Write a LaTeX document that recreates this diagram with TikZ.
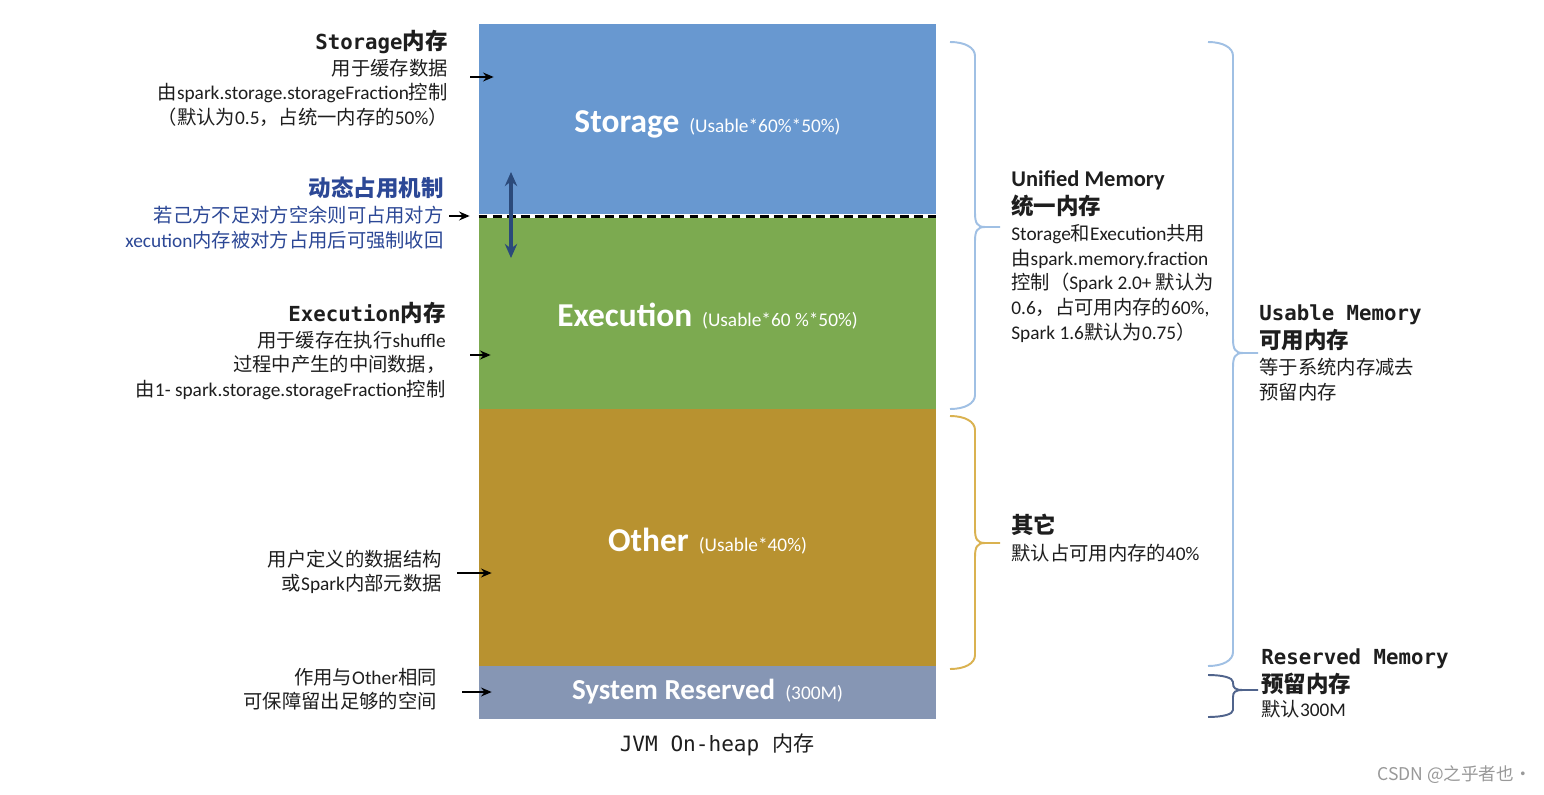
\documentclass[tikz,border=0pt]{standalone}
\usepackage{fontspec}
\setmainfont{Carlito}
\setmonofont{DejaVu Sans Mono}
\newfontfamily\zh{Noto Sans CJK SC}
\usepackage{xcolor}
\usetikzlibrary{arrows.meta, positioning, calc}
\definecolor{storblue}{RGB}{104,152,208}
\definecolor{execgreen}{RGB}{124,170,80}
\definecolor{othergold}{RGB}{184,146,48}
\definecolor{sysgray}{RGB}{134,150,180}
\definecolor{dynblue}{RGB}{44,72,150}
\definecolor{arrblue}{RGB}{43,74,122}
\definecolor{bracelight}{RGB}{160,192,228}
\definecolor{bracegold}{RGB}{218,178,80}
\definecolor{braceslate}{RGB}{80,100,140}
\definecolor{darkgray}{RGB}{30,30,30}

\newcommand{\z}[1]{{\zh #1}}
\newcommand{\monotitle}[1]{{\ttfamily\bfseries\fontsize{11.8}{14}\selectfont #1}}
\newcommand{\zhtitle}[1]{{\zh\bfseries\fontsize{12.8}{14}\selectfont #1}}
\newcommand{\sftitle}[1]{{\bfseries\fontsize{12.8}{14}\selectfont #1}}
% big name, small part, size, drop of the baseline
\newcommand{\boxlbl}[4]{\raisebox{-#4}[0pt][0pt]{{\bfseries\fontsize{#3}{20}\selectfont #1}\hspace{0.2cm}{\fontsize{11}{12}\selectfont #2}}}
% colour, x, top, bottom, tip, hook
\newcommand{\membrace}[6]{%
  \draw[#1, line width=1.1pt]
    (#2,#3) .. controls ({#2+15},#3) and ({#2+25},{#3+0.4*#6}) .. ({#2+25},{#3+#6})
    -- ({#2+25},{#5-#6}) .. controls ({#2+25},{#5-0.3*#6}) and ({#2+27},#5) .. ({#2+35},#5)
    -- ({#2+50},#5)
    ({#2+35},#5) .. controls ({#2+27},#5) and ({#2+25},{#5+0.3*#6}) .. ({#2+25},{#5+#6})
    -- ({#2+25},{#4-#6}) .. controls ({#2+25},{#4-0.4*#6}) and ({#2+15},#4) .. (#2,#4);}

\begin{document}
\begin{tikzpicture}[
    x=0.02cm, y=-0.02cm,
    blk/.style={minimum width=9.14cm, inner sep=0pt, text=white},
    lefttxt/.style={anchor=north east, inner sep=0pt, align=right, text=darkgray, font=\fontsize{11}{13.8}\selectfont},
    righttxt/.style={anchor=north west, inner sep=0pt, align=left, text=darkgray, font=\fontsize{11}{14}\selectfont},
    arr/.style={-{Stealth[length=6pt, width=5pt]}, line width=1.3pt, black},
    dblarr/.style={{Stealth[length=8pt, width=7pt]}-{Stealth[length=8pt, width=7pt]}, line width=1.8pt, arrblue}
]
\useasboundingbox[fill=white] (0,0) rectangle (1544,794);

% memory blocks
\node[blk, fill=storblue, minimum height=3.84cm] (storage) at (707.5,120) {\boxlbl{Storage}{(Usable*60\%*50\%)}{19}{0.26cm}};
\node[blk, fill=execgreen, minimum height=3.86cm] (exec) at (707.5,312.5) {\boxlbl{Execution}{(Usable*60 \%*50\%)}{19}{0.28cm}};
\node[blk, fill=othergold, minimum height=5.14cm] (other) at (707.5,537.5) {\boxlbl{Other}{(Usable*40\%)}{19}{0.27cm}};
\node[blk, fill=sysgray, minimum height=1.06cm] (sysres) at (707.5,692.5) {\boxlbl{System Reserved}{(300M)}{16.5}{0.14cm}};
\draw[white, line width=2.2pt] (storage.south west) -- (storage.south east);
\draw[black, line width=1.4pt, dash pattern=on 5pt off 3pt] (storage.south west) -- (storage.south east);
\node[font=\ttfamily\fontsize{12}{14}\selectfont, text=darkgray] (jvm) at (717,745) {JVM On-heap \z{内存}};

% dynamic borrowing
\coordinate (dtop) at (511,172);
\coordinate (dbot) at (511,258);
\draw[dblarr] (dtop) -- (dbot);

% left notes
\node[lefttxt] (stornote) at (448,30) {\monotitle{Storage}\zhtitle{内存}\\[1pt]
  \z{用于缓存数据}\\
  \z{由}spark.storage.storageFraction\z{控制}\\
  \z{（默认为}0.5\z{，占统一内存的}50\%\z{）}};
\node[lefttxt, text=dynblue] (dynnote) at (444,177) {\zhtitle{动态占用机制}\\[1pt]
  \z{若己方不足对方空余则可占用对方}\\
  xecution\z{内存被对方占用后可强制收回}};
\node[lefttxt] (execnote) at (446,302) {\monotitle{Execution}\zhtitle{内存}\\[1pt]
  \z{用于缓存在执行}shuffle\\
  \z{过程中产生的中间数据，}\\
  \z{由}1- spark.storage.storageFraction\z{控制}};
\node[lefttxt] (othernote) at (442,550) {\z{用户定义的数据结构}\\
  \z{或}Spark\z{内部元数据}};
\node[lefttxt] (sysnote) at (437,668) {\z{作用与}Other\z{相同}\\
  \z{可保障留出足够的空间}};

\coordinate (s1) at (470,77);
\coordinate (d1) at (449,216);
\coordinate (e1) at (470,355);
\coordinate (o1) at (457,573);
\coordinate (r1) at (462,692);
\draw[arr, shorten >=-0.3cm] (s1) -- (s1 -| storage.west);
\draw[arr, shorten >=0.18cm] (d1) -- (d1 -| storage.west);
\draw[arr, shorten >=-0.24cm] (e1) -- (e1 -| exec.west);
\draw[arr, shorten >=-0.26cm] (o1) -- (o1 -| other.west);
\draw[arr, shorten >=-0.26cm] (r1) -- (r1 -| sysres.west);

% braces
\membrace{bracelight}{950}{42}{409}{227}{14}
\membrace{bracegold}{950}{416}{669}{543}{14}
\membrace{bracelight}{1208}{42}{666}{353}{14}
\membrace{braceslate}{1208}{675}{717}{690}{7}

% right notes
\node[righttxt] (unifnote) at (1011,170) {\sftitle{Unified Memory}\\[2pt]
  \zhtitle{统一内存}\\[1pt]
  Storage\z{和}Execution\z{共用}\\
  \z{由}spark.memory.fraction\\
  \z{控制（}Spark 2.0+ \z{默认为}\\
  0.6\z{，占可用内存的}60\%,\\
  Spark 1.6\z{默认为}0.75\z{）}};
\node[righttxt] (othnote) at (1011,514) {\zhtitle{其它}\\[1pt]
  \z{默认占可用内存的}40\%};
\node[righttxt] (usenote) at (1259,304) {\monotitle{Usable Memory}\\[2pt]
  \zhtitle{可用内存}\\[1pt]
  \z{等于系统内存减去}\\
  \z{预留内存}};
\node[righttxt] (resnote) at (1261,648) {\monotitle{Reserved Memory}\\[2pt]
  \zhtitle{预留内存}\\
  \z{默认}300M};

\node[anchor=east, inner sep=0pt, text=black!40, font=\zh\fontsize{10}{11}\selectfont] (mark) at (1532,775) {CSDN @之乎者也·};
\end{tikzpicture}
\end{document}
